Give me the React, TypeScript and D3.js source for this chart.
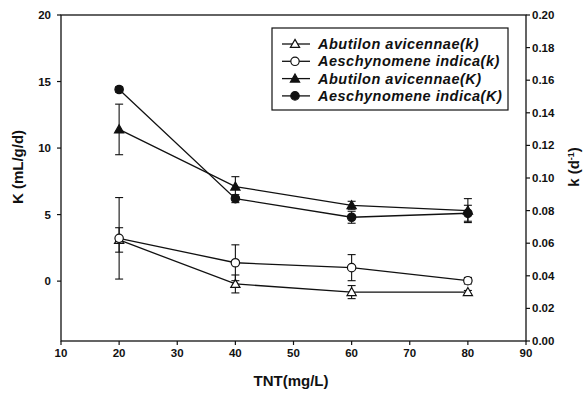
import * as d3 from "d3"

// TNT concentrations (mg/L)
const tnt = [20, 40, 60, 80]

// K (mL/g/d), left axis
const abutilonK = [11.4, 7.1, 5.7, 5.3]
const abutilonKErr = [1.9, 0.75, 0.3, 0.9]
const aeschK = [14.4, 6.2, 4.8, 5.1]
const aeschKErr = [0.2, 0.3, 0.45, 0.6]

// k (d-1), right axis
const abutilonk = [0.062, 0.035, 0.030, 0.030]
const abutilonkErr = [0.0075, 0.0055, 0.004, 0.001]
const aeschk = [0.063, 0.048, 0.045, 0.037]
const aeschkErr = [0.025, 0.011, 0.008, 0.002]

const xTicks = [10, 20, 30, 40, 50, 60, 70, 80, 90]
const leftTicks = [0, 5, 10, 15, 20]
const rightTicks = [0, 0.02, 0.04, 0.06, 0.08, 0.1, 0.12, 0.14, 0.16, 0.18, 0.2]

const legendLabels = [
  "Abutilon avicennae(k)",
  "Aeschynomene indica(k)",
  "Abutilon avicennae(K)",
  "Aeschynomene indica(K)",
]

const W = 587
const H = 398
const M = { left: 61, right: 526, top: 15, bottom: 341 }
const FONT = "'Liberation Sans', Arial, sans-serif"

type Marker = "triOpen" | "circOpen" | "triFill" | "circFill"

function MarkerShape({ kind, x, y }: { kind: Marker; x: number; y: number }) {
  const fill = kind === "triFill" || kind === "circFill" ? "#111" : "#fff"
  if (kind === "triOpen" || kind === "triFill") {
    const s = 4.6
    return (
      <path
        d={`M${x},${y - s} L${x + s},${y + s * 0.75} L${x - s},${y + s * 0.75} Z`}
        fill={fill}
        stroke="#111"
        strokeWidth={1.2}
      />
    )
  }
  return <circle cx={x} cy={y} r={4.2} fill={fill} stroke="#111" strokeWidth={1.2} />
}

export default function App() {
  const x = d3.scaleLinear().domain([10, 90]).range([M.left, M.right])
  const yL = d3.scaleLinear().domain([-4.5, 20]).range([M.bottom, M.top])
  const yR = d3.scaleLinear().domain([0, 0.2]).range([M.bottom, M.top])

  const series = [
    { vals: abutilonk, err: abutilonkErr, y: yR, kind: "triOpen" as Marker },
    { vals: aeschk, err: aeschkErr, y: yR, kind: "circOpen" as Marker },
    { vals: abutilonK, err: abutilonKErr, y: yL, kind: "triFill" as Marker },
    { vals: aeschK, err: aeschKErr, y: yL, kind: "circFill" as Marker },
  ]

  const line = (vals: number[], y: d3.ScaleLinear<number, number>) =>
    d3
      .line<number>()
      .x((_, i) => x(tnt[i]))
      .y((d) => y(d))(vals) ?? ""

  const legendX = 272
  const legendY = 28
  const rowH = 17.3

  return (
    <svg width={W} height={H} style={{ position: "absolute", left: 0, top: 0 }} fontFamily={FONT}>
      <rect width={W} height={H} fill="#fff" />

      {/* frame */}
      <rect
        x={M.left}
        y={M.top}
        width={M.right - M.left}
        height={M.bottom - M.top}
        fill="none"
        stroke="#111"
        strokeWidth={1.3}
      />

      {/* x axis */}
      {xTicks.map((t) => (
        <g key={t}>
          <line x1={x(t)} x2={x(t)} y1={M.bottom} y2={M.bottom + 4} stroke="#111" strokeWidth={1.2} />
          <text x={x(t)} y={M.bottom + 16} textAnchor="middle" fontSize={11.5} fontWeight="bold" fill="#111">
            {t}
          </text>
        </g>
      ))}
      <text x={291} y={386} textAnchor="middle" fontSize={15} fontWeight="bold" fill="#111">
        TNT(mg/L)
      </text>

      {/* left axis */}
      {leftTicks.map((t) => (
        <g key={t}>
          <line x1={M.left - 4} x2={M.left} y1={yL(t)} y2={yL(t)} stroke="#111" strokeWidth={1.2} />
          <text x={M.left - 10} y={yL(t) + 4} textAnchor="end" fontSize={11.5} fontWeight="bold" fill="#111">
            {t}
          </text>
        </g>
      ))}
      <text
        transform={`translate(23,167) rotate(-90)`}
        textAnchor="middle"
        fontSize={15}
        fontWeight="bold"
        fill="#111"
      >
        K (mL/g/d)
      </text>

      {/* right axis */}
      {rightTicks.map((t) => (
        <g key={t}>
          <line x1={M.right} x2={M.right + 4} y1={yR(t)} y2={yR(t)} stroke="#111" strokeWidth={1.2} />
          <text x={M.right + 6} y={yR(t) + 4} textAnchor="start" fontSize={11.5} fontWeight="bold" fill="#111">
            {t.toFixed(2)}
          </text>
        </g>
      ))}
      <text
        transform={`translate(579,167) rotate(-90)`}
        textAnchor="middle"
        fontSize={15}
        fontWeight="bold"
        fill="#111"
      >
        k (d
        <tspan fontSize={9} dy={-5}>
          -1
        </tspan>
        <tspan dy={5}>)</tspan>
      </text>

      {/* series */}
      {series.map((s, si) => (
        <g key={si}>
          <path d={line(s.vals, s.y)} fill="none" stroke="#111" strokeWidth={1.3} />
          {s.vals.map((v, i) => {
            const cx = x(tnt[i])
            const top = s.y(v + s.err[i])
            const bot = s.y(v - s.err[i])
            return (
              <g key={i}>
                <line x1={cx} x2={cx} y1={top} y2={bot} stroke="#111" strokeWidth={1.1} />
                <line x1={cx - 4} x2={cx + 4} y1={top} y2={top} stroke="#111" strokeWidth={1.1} />
                <line x1={cx - 4} x2={cx + 4} y1={bot} y2={bot} stroke="#111" strokeWidth={1.1} />
              </g>
            )
          })}
          {s.vals.map((v, i) => (
            <MarkerShape key={`m${i}`} kind={s.kind} x={x(tnt[i])} y={s.y(v)} />
          ))}
        </g>
      ))}

      {/* legend */}
      <rect x={legendX} y={legendY} width={236} height={82} fill="#fff" stroke="#111" strokeWidth={1.2} />
      {legendLabels.map((lab, i) => {
        const ly = legendY + 16 + i * rowH
        return (
          <g key={lab}>
            <line x1={legendX + 10} x2={legendX + 38} y1={ly} y2={ly} stroke="#111" strokeWidth={1.3} />
            <MarkerShape kind={series[i].kind} x={legendX + 23} y={ly} />
            <text
              x={legendX + 46}
              y={ly + 5}
              fontSize={14.5}
              fontStyle="italic"
              fontWeight="bold"
              letterSpacing={0.5}
              fill="#111"
            >
              {lab}
            </text>
          </g>
        )
      })}
    </svg>
  )
}
